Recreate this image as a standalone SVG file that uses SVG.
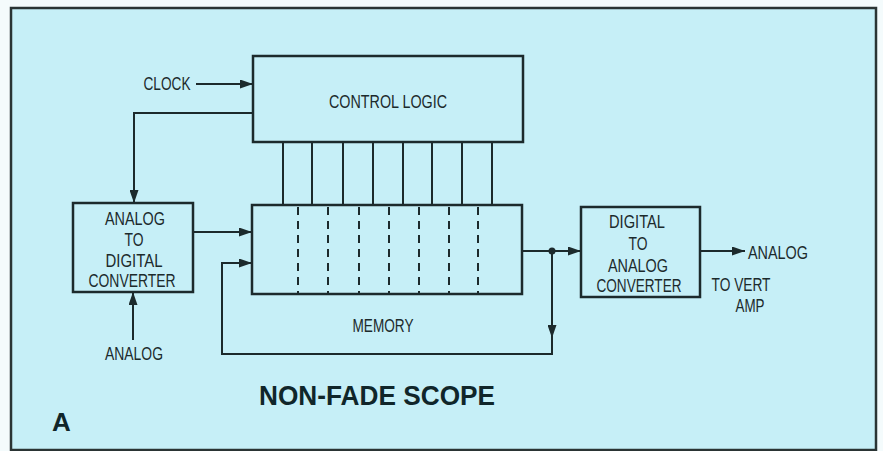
<svg xmlns="http://www.w3.org/2000/svg" width="883" height="451" viewBox="0 0 883 451">
<defs>
<marker id="ah" viewBox="0 0 13 9" refX="13" refY="4.5" markerWidth="13" markerHeight="9" markerUnits="userSpaceOnUse" orient="auto">
<path d="M0,0 L13,4.5 L0,9 Z" fill="#1c2a2c"/>
</marker>
</defs>
<style>
.box{fill:none;stroke:#1c2a2c;stroke-width:2.5}
.ln{fill:none;stroke:#1c2a2c;stroke-width:2}
.dash{fill:none;stroke:#1c2a2c;stroke-width:2;stroke-dasharray:8,6}
.t{font-family:"Liberation Sans",Arial,sans-serif;font-size:18.5px;fill:#1c2a2c;text-anchor:middle}
.b{font-family:"Liberation Sans",Arial,sans-serif;font-weight:bold;fill:#10262a}
</style>
<rect x="0" y="0" width="883" height="451" fill="#f4fbfc"/>
<rect x="11" y="8" width="865" height="442" fill="#c6eff7" stroke="#2a3434" stroke-width="2.5"/>

<g id="connectors">
<line class="ln" x1="196" y1="84" x2="253" y2="84" marker-end="url(#ah)"/>
<polyline class="ln" points="253,113 134,113 134,203" marker-end="url(#ah)"/>
<line class="ln" x1="133" y1="340" x2="133" y2="292" marker-end="url(#ah)"/>
<line class="ln" x1="193" y1="232" x2="252" y2="232" marker-end="url(#ah)"/>
<polyline class="ln" points="552,251 552,354 222,354 222,263 252,263" marker-end="url(#ah)"/>
<line class="ln" x1="552" y1="251" x2="552" y2="338" marker-end="url(#ah)"/>
<line class="ln" x1="522" y1="251" x2="581" y2="251" marker-end="url(#ah)"/>
<circle cx="552" cy="251" r="3.5" fill="#1c2a2c"/>
<line class="ln" x1="700" y1="251" x2="745" y2="251" marker-end="url(#ah)"/>
<g id="buses">
<line class="ln" x1="283" y1="142" x2="283" y2="205"/>
<line class="ln" x1="312" y1="142" x2="312" y2="205"/>
<line class="ln" x1="343" y1="142" x2="343" y2="205"/>
<line class="ln" x1="373" y1="142" x2="373" y2="205"/>
<line class="ln" x1="403" y1="142" x2="403" y2="205"/>
<line class="ln" x1="432" y1="142" x2="432" y2="205"/>
<line class="ln" x1="462" y1="142" x2="462" y2="205"/>
<line class="ln" x1="492" y1="142" x2="492" y2="205"/>
</g>
</g>

<g id="control-logic">
<rect class="box" x="253" y="56" width="270" height="86"/>
<text class="t" x="388" y="108" textLength="118" lengthAdjust="spacingAndGlyphs">CONTROL LOGIC</text>
</g>

<g id="clock">
<text class="t" x="167" y="90" textLength="47" lengthAdjust="spacingAndGlyphs">CLOCK</text>
</g>

<g id="adc">
<rect class="box" x="73" y="203" width="120" height="89"/>
<text class="t" x="135" y="225" textLength="60" lengthAdjust="spacingAndGlyphs">ANALOG</text>
<text class="t" x="134" y="246" textLength="19" lengthAdjust="spacingAndGlyphs">TO</text>
<text class="t" x="134" y="267" textLength="57" lengthAdjust="spacingAndGlyphs">DIGITAL</text>
<text class="t" x="132" y="287" textLength="87" lengthAdjust="spacingAndGlyphs">CONVERTER</text>
</g>

<g id="analog-in">
<text class="t" x="134" y="360" textLength="58" lengthAdjust="spacingAndGlyphs">ANALOG</text>
</g>

<g id="memory">
<rect class="box" x="252" y="205" width="270" height="89"/>
<line class="dash" x1="298" y1="207" x2="298" y2="293"/>
<line class="dash" x1="328" y1="207" x2="328" y2="293"/>
<line class="dash" x1="359" y1="207" x2="359" y2="293"/>
<line class="dash" x1="389" y1="207" x2="389" y2="293"/>
<line class="dash" x1="419" y1="207" x2="419" y2="293"/>
<line class="dash" x1="449" y1="207" x2="449" y2="293"/>
<line class="dash" x1="478" y1="207" x2="478" y2="293"/>
<text class="t" x="383" y="332" textLength="61" lengthAdjust="spacingAndGlyphs">MEMORY</text>
</g>

<g id="dac">
<rect class="box" x="581" y="207" width="119" height="90"/>
<text class="t" x="637" y="228" textLength="56" lengthAdjust="spacingAndGlyphs">DIGITAL</text>
<text class="t" x="638" y="250" textLength="19" lengthAdjust="spacingAndGlyphs">TO</text>
<text class="t" x="638" y="272" textLength="60" lengthAdjust="spacingAndGlyphs">ANALOG</text>
<text class="t" x="639" y="292" textLength="85" lengthAdjust="spacingAndGlyphs">CONVERTER</text>
</g>

<g id="analog-out">
<text class="t" x="778" y="259" textLength="60" lengthAdjust="spacingAndGlyphs">ANALOG</text>
<text class="t" x="741" y="291" textLength="59" lengthAdjust="spacingAndGlyphs">TO VERT</text>
<text class="t" x="750" y="312" textLength="29" lengthAdjust="spacingAndGlyphs">AMP</text>
</g>

<g id="title">
<text class="b" x="259" y="405" font-size="27" textLength="236" lengthAdjust="spacingAndGlyphs">NON-FADE SCOPE</text>
<text class="b" x="52" y="431" font-size="26">A</text>
</g>
</svg>
